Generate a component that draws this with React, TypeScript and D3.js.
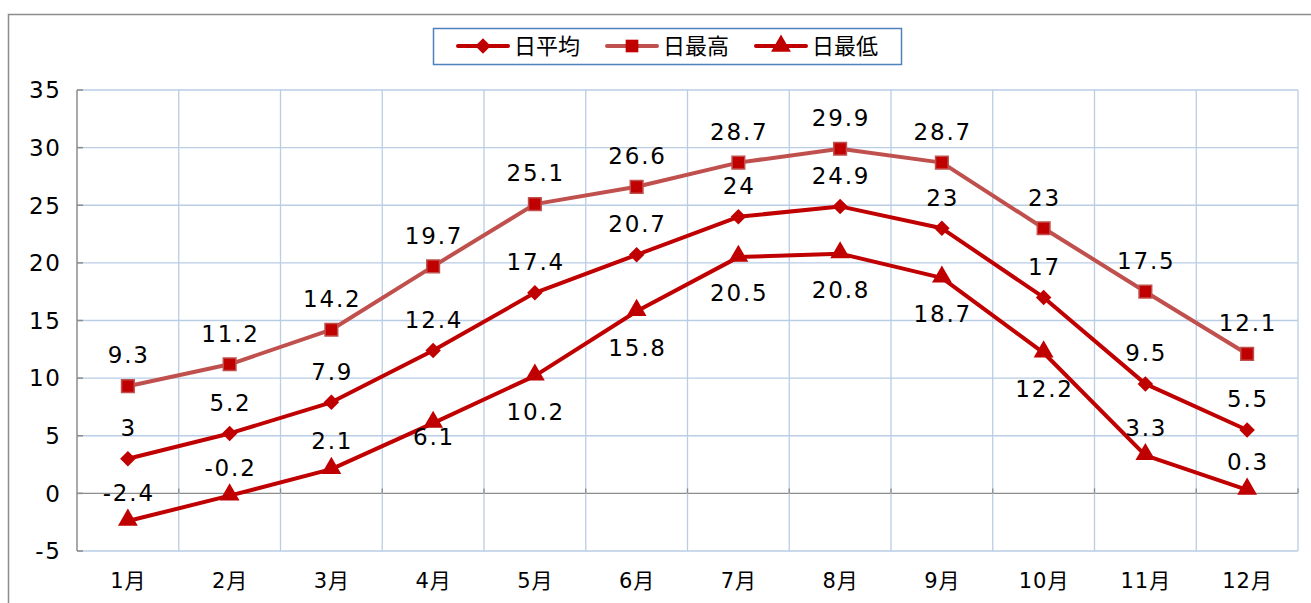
import React from "react";
import * as d3 from "d3";

const categories = ["1月","2月","3月","4月","5月","6月","7月","8月","9月","10月","11月","12月"];
const avgValues = [3, 5.2, 7.9, 12.4, 17.4, 20.7, 24, 24.9, 23, 17, 9.5, 5.5];
const maxValues = [9.3, 11.2, 14.2, 19.7, 25.1, 26.6, 28.7, 29.9, 28.7, 23, 17.5, 12.1];
const minValues = [-2.4, -0.2, 2.1, 6.1, 10.2, 15.8, 20.5, 20.8, 18.7, 12.2, 3.3, 0.3];
const yTicks = [-5, 0, 5, 10, 15, 20, 25, 30, 35];
const seriesNames = ["日平均", "日最高", "日最低"];

const W = 1311, H = 603;
const left = 77, right = 1298, top = 90, bottom = 551;
const FONT = "'DejaVu Sans', 'Noto Sans CJK JP', sans-serif";
const CJK = "'Noto Sans CJK JP', sans-serif";
const RED = "#c00000";
const MAXLINE = "#c0504d";
const GRID = "#b9cde5";

// label placement for the min series: true = below point
const minBelow = [false, false, false, true, true, true, true, true, true, true, false, false];

export default function App() {
  const x = d3.scaleBand<string>().domain(categories).range([left, right]);
  const cx = (c: string) => (x(c) as number) + x.bandwidth() / 2;
  const y = d3.scaleLinear().domain([-5, 35]).range([bottom, top]);
  const line = d3.line<number>().x((_, i) => cx(categories[i])).y((v) => y(v));

  const diamond = d3.symbol().type(d3.symbolSquare).size(120)() as string;
  const square = d3.symbol().type(d3.symbolSquare).size(160)() as string;
  const triangle = d3.symbol().type(d3.symbolTriangle).size(170)() as string;

  const fs = 23;
  const ls = 1.8;
  return (
    <svg width={W} height={H} style={{ position: "absolute", left: 0, top: 0, background: "#fff" }}>
      <rect x={0} y={0} width={W} height={H} fill="#fff" />
      <rect x={8.5} y={14.5} width={W} height={H} fill="none" stroke="#8c8c8c" strokeWidth={1.5} />
      {yTicks.map((t) => (
        <line key={"h" + t} x1={left} x2={right} y1={y(t)} y2={y(t)} stroke={t === 0 ? "#8c8c8c" : GRID} strokeWidth={1.3} />
      ))}
      {categories.map((c) => (
        <line key={"v" + c} x1={(x(c) as number) + x.bandwidth()} x2={(x(c) as number) + x.bandwidth()} y1={top} y2={bottom} stroke={GRID} strokeWidth={1.3} />
      ))}
      {categories.map((c) => (
        <line key={"ct" + c} x1={(x(c) as number) + x.bandwidth()} x2={(x(c) as number) + x.bandwidth()} y1={y(0) - 5} y2={y(0)} stroke="#8c8c8c" strokeWidth={1.3} />
      ))}
      <line x1={left} x2={left} y1={top} y2={bottom} stroke="#8c8c8c" strokeWidth={1.5} />
      {yTicks.map((t) => (
        <g key={"yt" + t}>
          <line x1={left} x2={left + 6} y1={y(t)} y2={y(t)} stroke="#8c8c8c" strokeWidth={1.5} />
          <text x={60 + ls} y={y(t)} dy="0.36em" textAnchor="end" fontFamily={FONT} fontSize={23} letterSpacing={ls} fill="#000">{t}</text>
        </g>
      ))}
      {categories.map((c) => (
        <text key={"xl" + c} x={cx(c) + 0.5} y={580} dy="0.36em" textAnchor="middle" fontFamily={FONT} fontSize={21} letterSpacing={1} fill="#000">{c}</text>
      ))}
      <path d={line(maxValues) as string} fill="none" stroke={MAXLINE} strokeWidth={4} strokeLinejoin="round" />
      <path d={line(avgValues) as string} fill="none" stroke={RED} strokeWidth={4} strokeLinejoin="round" />
      <path d={line(minValues) as string} fill="none" stroke={RED} strokeWidth={4} strokeLinejoin="round" />
      {maxValues.map((v, i) => (
        <path key={"mq" + i} d={square} transform={`translate(${cx(categories[i])},${y(v)})`} fill={RED} stroke={MAXLINE} strokeWidth={1.5} />
      ))}
      {avgValues.map((v, i) => (
        <path key={"ad" + i} d={diamond} transform={`translate(${cx(categories[i])},${y(v)}) rotate(45)`} fill={RED} />
      ))}
      {minValues.map((v, i) => (
        <path key={"mt" + i} d={triangle} transform={`translate(${cx(categories[i])},${y(v) - 1})`} fill={RED} />
      ))}
      {maxValues.map((v, i) => (
        <text key={"ml" + i} x={cx(categories[i]) + ls / 2} y={y(v) - 31} dy="0.36em" textAnchor="middle" fontFamily={FONT} fontSize={fs} letterSpacing={ls} fill="#000">{v}</text>
      ))}
      {avgValues.map((v, i) => (
        <text key={"al" + i} x={cx(categories[i]) + ls / 2} y={y(v) - 31} dy="0.36em" textAnchor="middle" fontFamily={FONT} fontSize={fs} letterSpacing={ls} fill="#000">{v}</text>
      ))}
      {minValues.map((v, i) => (
        <text key={"nl" + i} x={cx(categories[i]) + ls / 2} y={minBelow[i] ? y(v) + (i === 3 ? 14 : 36) : y(v) - 28} dy="0.36em" textAnchor="middle" fontFamily={FONT} fontSize={fs} letterSpacing={ls} fill="#000">{v}</text>
      ))}
      <rect x={433.5} y={28.5} width={468} height={36} fill="#fff" stroke="#4f81bd" strokeWidth={1.5} />
      {[{ sym: diamond, rot: 45, stroke: RED, x0: 458 }, { sym: square, rot: 0, stroke: MAXLINE, x0: 607 }, { sym: triangle, rot: 0, stroke: RED, x0: 756 }].map((s, i) => (
        <g key={"lg" + i}>
          <line x1={s.x0} x2={s.x0 + 50} y1={46} y2={46} stroke={s.stroke} strokeWidth={4} strokeLinecap="round" />
          <path d={s.sym} transform={`translate(${s.x0 + 25},${46}) rotate(${s.rot})`} fill={RED} />
          <text x={s.x0 + 56} y={46} dy="0.36em" fontFamily={CJK} fontSize={22} fill="#000">{seriesNames[i]}</text>
        </g>
      ))}
    </svg>
  );
}
